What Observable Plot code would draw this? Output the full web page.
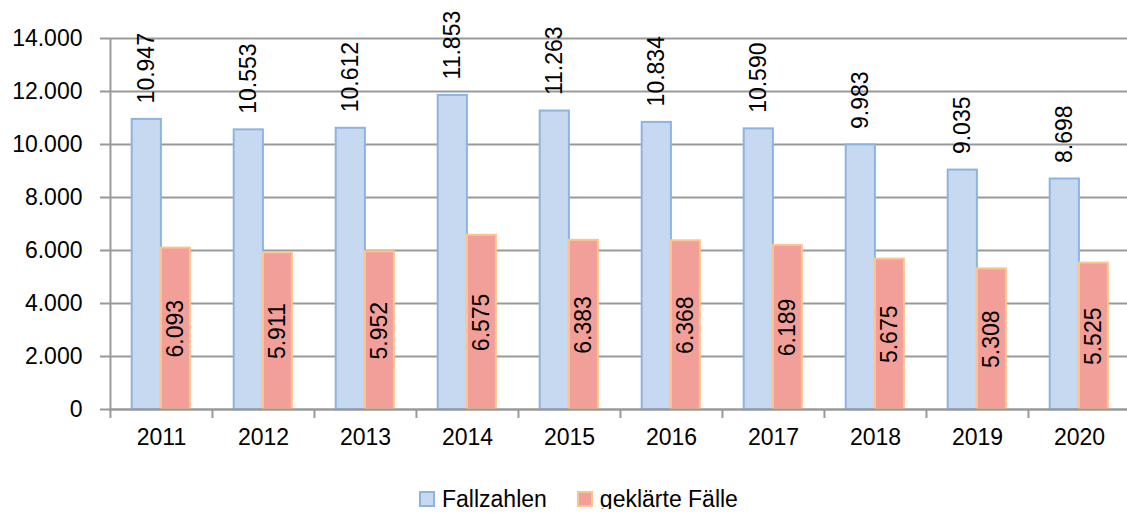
<!DOCTYPE html>
<html>
<head>
<meta charset="utf-8">
<script src="https://cdn.jsdelivr.net/npm/d3@7"></script>
<script src="https://cdn.jsdelivr.net/npm/@observablehq/plot@0.6"></script>
<style>
  html, body { margin: 0; padding: 0; background: #fff; overflow: hidden; }
  body { font-family: "Liberation Sans", Arial, sans-serif; color: #000; }
  #chart svg { display: block; overflow: visible; }
  .legend { display: flex; align-items: center; height: 20px; margin-top: 19px; margin-left: 419px; font-size: 23px; }
  .legend .item { display: flex; align-items: center; gap: 7px; margin-right: 30px; }
  .legend .sw { width: 12px; height: 12px; border: 2px solid; }
</style>
</head>
<body>
<div id="chart"></div>
<script>
const years = ["2011","2012","2013","2014","2015","2016","2017","2018","2019","2020"];
const fallzahlen = [10947, 10553, 10612, 11853, 11263, 10834, 10590, 9983, 9035, 8698];
const geklaert = [6093, 5911, 5952, 6575, 6383, 6368, 6189, 5675, 5308, 5525];
const yTicks = [0, 2000, 4000, 6000, 8000, 10000, 12000, 14000];
const seriesNames = ["Fallzahlen", "geklärte Fälle"];

const blueFill = "#c6d9f0", blueStroke = "#8db3e2";
const redFill = "#f19f98", redStroke = "#fcc590";
const gridColor = "#999";

const de = d3.formatLocale({decimal: ",", thousands: ".", grouping: [3], currency: ["", " €"]});
const fmt = de.format(",d");

const W = 1127, H = 470;
const mLeft = 109, mRight = -3, mTop = 38, mBottom = 61;
const bandW = (W - mRight - mLeft) / years.length;
const half = bandW / 2;

const data = years.map((y, i) => ({year: y, a: fallzahlen[i], b: geklaert[i]}));

const plot = Plot.plot({
  width: W,
  height: H,
  marginLeft: mLeft,
  marginRight: mRight,
  marginTop: mTop,
  marginBottom: mBottom,
  style: {fontFamily: "Liberation Sans, Arial, sans-serif", fontSize: "23px", color: "#000", background: "#fff", overflow: "visible"},
  x: {type: "band", domain: years, padding: 0, axis: null, label: null},
  y: {domain: [0, 14000], axis: null, label: null},
  marks: [
    Plot.gridY(yTicks, {stroke: gridColor, strokeOpacity: 1, strokeWidth: 2}),
    Plot.barY(data, {x: "year", y: "a", fill: blueFill, stroke: blueStroke, strokeWidth: 2,
      insetLeft: 21.7, insetRight: bandW - 51}),
    Plot.barY(data, {x: "year", y: "b", fill: redFill, stroke: redStroke, strokeWidth: 2,
      insetLeft: 51, insetRight: bandW - 80}),
    Plot.axisY(yTicks, {tickSize: 9, tickPadding: 18, tickFormat: fmt, stroke: gridColor, strokeWidth: 2, fontSize: 23, fill: "#000", label: null}),
    Plot.ruleX([years[0]], {x: d => d, dx: -half, y1: 0, y2: 14000, stroke: gridColor, strokeWidth: 2}),
    Plot.ruleY([0], {stroke: gridColor, strokeWidth: 2}),
    Plot.axisX({tickSize: 9, tickFormat: () => "", dx: -half, stroke: gridColor, strokeWidth: 2, label: null}),
    Plot.axisX({tickSize: 0, tickPadding: 19, fontSize: 23, fill: "#000", label: null}),
    Plot.text(data, {x: "year", y: "a", text: d => fmt(d.a), rotate: -90, textAnchor: "start",
      dx: -14.7, dy: -16, fontSize: 23, fill: "#000"}),
    Plot.text(data, {x: "year", y: d => d.b / 2, text: d => fmt(d.b), rotate: -90, textAnchor: "middle",
      dx: 14.5, fontSize: 23, fill: "#000"})
  ]
});
document.getElementById("chart").appendChild(plot);

const legend = document.createElement("div");
legend.className = "legend";
[[seriesNames[0], blueFill, blueStroke], [seriesNames[1], redFill, redStroke]].forEach(([name, f, s]) => {
  const item = document.createElement("div");
  item.className = "item";
  const sw = document.createElement("span");
  sw.className = "sw";
  sw.style.background = f;
  sw.style.borderColor = s;
  const t = document.createElement("span");
  t.textContent = name;
  item.appendChild(sw);
  item.appendChild(t);
  legend.appendChild(item);
});
document.getElementById("chart").appendChild(legend);
</script>
</body>
</html>
